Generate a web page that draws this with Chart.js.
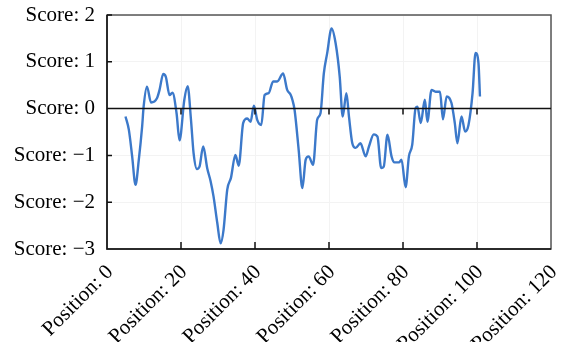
<!DOCTYPE html>
<html>
<head>
<meta charset="utf-8">
<script src="https://cdn.jsdelivr.net/npm/chart.js@4"></script>
<style>
    html, body { margin: 0; padding: 0; background: #fff; }
    #wrap { width: 566px; height: 342px; }
</style>
</head>
<body>
<div id="wrap"><canvas id="chart"></canvas></div>
<script>
// values
const positions = [5.0, 5.9, 6.8, 7.7, 8.6, 9.5, 9.9, 10.8, 11.9, 13.5, 14.2, 15.2, 15.9, 16.9, 17.7, 18.8, 19.6,
    20.9, 21.8, 22.7, 23.4, 24.3, 25.0, 26.0, 27.1, 28.0, 28.8, 29.8, 30.7, 31.5, 32.5, 33.5, 34.7, 35.6,
    36.8, 37.9, 38.8, 39.7, 40.6, 41.7, 42.6, 43.7, 44.9, 46.0, 47.6, 48.7, 49.6, 50.1, 50.7, 51.8, 52.8,
    53.7, 54.5, 55.7, 56.8, 57.7, 58.6, 59.5, 60.7, 61.8, 62.9, 63.7, 64.7, 65.4, 66.3, 67.2, 68.5, 69.9,
    70.8, 72.1, 73.1, 74.1, 74.8, 75.8, 76.9, 77.7, 78.9, 79.6, 80.7, 81.6, 82.5, 83.4, 83.9, 84.8, 85.9,
    86.6, 87.7, 88.8, 90.0, 90.8, 91.8, 93.1, 94.0, 94.7, 95.8, 96.8, 97.7, 98.8, 99.6, 100.4, 100.8];
const scores = [-0.17, -0.45, -1.02, -1.63, -1.09, -0.38, 0.04, 0.47, 0.13, 0.22, 0.40, 0.74, 0.68, 0.29, 0.34, -0.10, -0.68,
    0.19, 0.48, -0.24, -0.95, -1.29, -1.24, -0.81, -1.28, -1.55, -1.88, -2.44, -2.88, -2.59, -1.73, -1.48, -0.99, -1.22,
    -0.31, -0.21, -0.28, 0.06, -0.24, -0.35, 0.29, 0.33, 0.58, 0.58, 0.75, 0.40, 0.30, 0.19, -0.03, -0.88, -1.70,
    -1.09, -1.02, -1.20, -0.24, -0.10, 0.75, 1.18, 1.71, 1.39, 0.68, -0.17, 0.33, -0.17, -0.74, -0.84, -0.74, -1.02,
    -0.81, -0.55, -0.60, -1.27, -1.24, -0.56, -1.02, -1.15, -1.15, -1.09, -1.68, -1.02, -0.77, 0.01, 0.04, -0.31, 0.19,
    -0.28, 0.40, 0.36, 0.36, -0.23, 0.26, 0.12, -0.31, -0.74, -0.17, -0.49, -0.35, 0.33, 1.19, 0.97, 0.26];

const xTicks = [0, 20, 40, 60, 80, 100, 120];
const yTicks = [-3, -2, -1, 0, 1, 2];

const points = positions.map((p, i) => ({x: p, y: scores[i]}));

function fmt(v) {
    return v < 0 ? '\u2212' + Math.abs(v) : String(v);
}

// frame, zero line and the inward tick marks
const axisMarks = {
    id: 'axisMarks',
    afterDraw(chart) {
        const ctx = chart.ctx;
        const a = chart.chartArea;
        const xs = chart.scales.x;
        const ys = chart.scales.y;
        const y0 = ys.getPixelForValue(0);
        ctx.save();
        ctx.strokeStyle = '#555';
        ctx.lineWidth = 1.5;
        ctx.strokeRect(a.left, a.top, a.right - a.left, a.bottom - a.top);
        ctx.strokeStyle = '#111';
        ctx.beginPath();
        ctx.moveTo(a.left, a.top);
        ctx.lineTo(a.left, a.bottom);
        ctx.lineTo(a.right, a.bottom);
        ctx.moveTo(a.left, y0);
        ctx.lineTo(a.right, y0);
        xTicks.slice(1, -1).forEach(t => {
            const px = xs.getPixelForValue(t);
            ctx.moveTo(px, a.bottom);
            ctx.lineTo(px, a.bottom - 7);
            ctx.moveTo(px, y0);
            ctx.lineTo(px, y0 + 6);
        });
        yTicks.forEach(t => {
            const py = ys.getPixelForValue(t);
            ctx.moveTo(a.left, py);
            ctx.lineTo(a.left + 5, py);
        });
        ctx.stroke();
        ctx.restore();
    }
};

Chart.defaults.font.family = '"Liberation Serif", "Times New Roman", serif';
Chart.defaults.font.size = 21;
Chart.defaults.color = '#000';

new Chart(document.getElementById('chart'), {
    type: 'line',
    data: {
        datasets: [{
            data: points,
            borderColor: '#3c79ca',
            borderWidth: 2.4,
            pointRadius: 0,
            cubicInterpolationMode: 'monotone',
            fill: false
        }]
    },
    options: {
        responsive: true,
        maintainAspectRatio: false,
        animation: false,
        layout: {padding: {left: 0, right: 15, top: 0, bottom: 0}},
        plugins: {legend: {display: false}, tooltip: {enabled: false}},
        scales: {
            x: {
                type: 'linear',
                min: 0,
                max: 120,
                afterBuildTicks: s => { s.ticks = xTicks.map(v => ({value: v})); },
                afterFit: s => { s.height = 93; s.paddingLeft = 0; s.paddingRight = 0; },
                grid: {color: '#f3f3f3', drawTicks: false, tickLength: 0},
                border: {display: false},
                ticks: {
                    autoSkip: false,
                    minRotation: 45,
                    maxRotation: 45,
                    padding: 11,
                    labelOffset: 3,
                    callback: v => 'Position: ' + fmt(v)
                }
            },
            y: {
                min: -3,
                max: 2,
                afterBuildTicks: s => { s.ticks = yTicks.map(v => ({value: v})); },
                afterFit: s => { s.width = 107; s.paddingTop = 15; s.paddingBottom = 0; },
                grid: {color: '#f3f3f3', drawTicks: false, tickLength: 0},
                border: {display: false},
                ticks: {
                    padding: 12,
                    callback: v => 'Score: ' + fmt(v)
                }
            }
        }
    },
    plugins: [axisMarks]
});
</script>
</body>
</html>
